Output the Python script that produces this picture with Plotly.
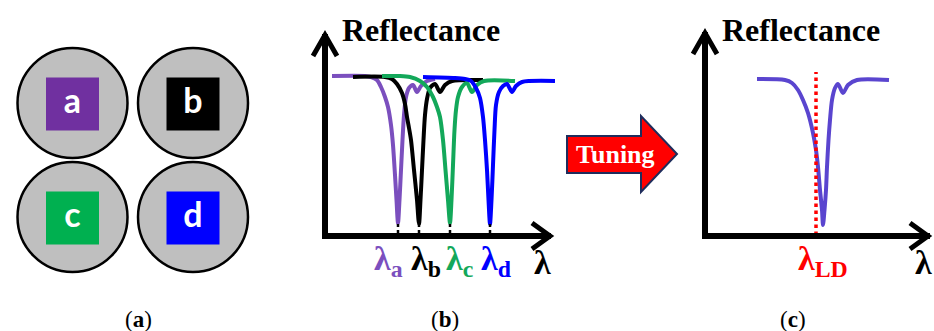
import plotly.graph_objects as go

W, H = 934, 331

# ---------------- data ----------------
# Panel (a): four samples
sample_labels = ["a", "b", "c", "d"]
square_colors = ["#7030A0", "#000000", "#00B050", "#0000FF"]

# Panel (b): reflectance spectra of the four samples (wavelength a.u., reflectance a.u.)
wl_a = [7, 40, 46, 52, 56, 60, 63, 66, 68, 70, 71.5, 73, 74.5, 76, 77.5, 79, 81, 84, 88, 92, 96, 102, 110]
R_a = [160, 160, 159, 156, 149, 139, 129, 111, 91, 61, 36, 13, 36, 66, 96, 121, 139, 148, 151, 144, 150, 155, 157]

wl_b = [28, 60, 67, 72, 77, 80, 82, 84, 86, 89, 92, 94, 95.5, 97, 98.5, 100, 102, 105, 110, 115, 120, 127, 158]
R_b = [159, 159, 157, 152, 143, 132, 119, 108, 96, 66, 36, 12, 36, 66, 96, 121, 137, 148, 152, 144, 151, 155, 156]

wl_c = [57, 75, 85, 95, 102, 108, 112, 115, 118, 120.5, 123, 125, 126.5, 128, 129.5, 131, 133, 137, 142, 147, 152, 159, 190]
R_c = [160, 160, 159, 155, 149, 139, 129, 119, 96, 66, 36, 13, 36, 71, 106, 126, 139, 149, 153, 144, 151, 155, 155]

wl_d = [98, 130, 140, 146, 151, 155, 158, 160, 162, 163.5, 165, 166.5, 168, 169.5, 171, 174, 178, 182, 187, 191, 197, 230]
R_d = [159, 158, 157, 155, 148, 138, 119, 96, 66, 36, 12, 36, 71, 106, 131, 144, 150, 152, 144, 150, 154, 155]

spectra_b = [(wl_a, R_a), (wl_b, R_b), (wl_c, R_c), (wl_d, R_d)]
line_colors = ["#7B4FBE", "#000000", "#13A85A", "#0000FF"]
dip_wl = [73, 94, 125, 165]
dip_R = [12, 12, 12, 12]
peak_names = ["a", "b", "c", "d"]

# Panel (c): tuned spectrum and laser wavelength
wl_t = [52, 80, 87, 93, 98, 103, 108, 111, 113, 115, 117, 118, 119.5, 121, 122, 123.5, 125, 127, 130, 133, 138, 143, 152, 184]
R_t = [157, 156, 153, 146, 136, 123, 103, 86, 69, 46, 26, 11, 26, 46, 69, 96, 116, 136, 148, 152, 143, 151, 156, 156]
lambda_LD = 111
lambda_LD_span = [1, 164]

panel_tags = ["a", "b", "c"]

# ---------------- layout constants (pixels) ----------------
SERIF = "Liberation Serif"
B_X0, B_X1, Y_BOT, Y_TOP = 325, 555, 236, 30
C_X0, C_X1 = 705, W

fig = go.Figure()

# Panel (a): circles with coloured squares
cols = [i % 2 for i in range(4)]
rows = [i // 2 for i in range(4)]
cx = [72.5 + c * 120.5 for c in cols]
cy = [103 + r * 114 for r in rows]
fig.add_trace(go.Scatter(
    x=cx, y=cy, mode="markers", xaxis="x", yaxis="y",
    marker=dict(symbol="circle", size=110, color="#BFBFBF",
                line=dict(color="#000000", width=2.5)),
    hoverinfo="skip", showlegend=False))
fig.add_trace(go.Scatter(
    x=cx, y=[v + 1 for v in cy], mode="markers+text", xaxis="x", yaxis="y",
    marker=dict(symbol="square", size=53, color=square_colors, line=dict(width=0)),
    text=sample_labels, textposition="middle center",
    textfont=dict(family="Lato", size=34, color="white", weight="bold"),
    hoverinfo="skip", showlegend=False))

# Panel (b): spectra
for (wl, R), col in zip(spectra_b, line_colors):
    fig.add_trace(go.Scatter(
        x=wl, y=R, mode="lines", xaxis="x2", yaxis="y2",
        line=dict(color=col, width=4, shape="spline", smoothing=0.8),
        hoverinfo="skip", showlegend=False))
for w, r in zip(dip_wl, dip_R):
    fig.add_trace(go.Scatter(
        x=[w, w], y=[r, 2], mode="lines", xaxis="x2", yaxis="y2",
        line=dict(color="#000000", width=2.5, dash="dot"),
        hoverinfo="skip", showlegend=False))

# Panel (c): tuned spectrum and laser line
fig.add_trace(go.Scatter(
    x=wl_t, y=R_t, mode="lines", xaxis="x3", yaxis="y3",
    line=dict(color="#5A45CF", width=4, shape="spline", smoothing=0.8),
    hoverinfo="skip", showlegend=False))
fig.add_trace(go.Scatter(
    x=[lambda_LD, lambda_LD], y=lambda_LD_span, mode="lines", xaxis="x3", yaxis="y3",
    line=dict(color="#FF0000", width=3.5, dash="dot"),
    hoverinfo="skip", showlegend=False))

shapes = []
def line(x0, y0, x1, y1, w=6):
    shapes.append(dict(type="line", xref="x", yref="y", x0=x0, y0=y0, x1=x1, y1=y1,
                       line=dict(color="black", width=w)))
def path(p, w=5, fill=None, lc="black"):
    d = dict(type="path", xref="x", yref="y", path=p, line=dict(color=lc, width=w))
    if fill:
        d["fillcolor"] = fill
    shapes.append(d)

# axes of (b)
line(B_X0, Y_BOT + 3, B_X0, Y_TOP + 4)
line(B_X0 - 3, Y_BOT, B_X1 - 4, Y_BOT)
path(f"M {B_X0-12},{Y_TOP+26} L {B_X0},{Y_TOP+5} L {B_X0+12},{Y_TOP+26}")
path(f"M {B_X1-23},{Y_BOT-13} L {B_X1-5},{Y_BOT} L {B_X1-23},{Y_BOT+13}")
# axes of (c)
line(C_X0, Y_BOT + 3, C_X0, Y_TOP + 2)
line(C_X0 - 3, Y_BOT, C_X1 - 4, Y_BOT)
path(f"M {C_X0-12},{Y_TOP+24} L {C_X0},{Y_TOP+3} L {C_X0+12},{Y_TOP+24}")
path(f"M {C_X1-24},{Y_BOT-13} L {C_X1-6},{Y_BOT} L {C_X1-24},{Y_BOT+13}")
# Tuning arrow
path("M 567,136 L 641,136 L 641,116 L 677,154 L 641,192 L 641,173 L 567,173 Z",
     w=2, fill="#FF0000", lc="#1F2D5C")

ann = []
def text(x, y, s, size, color="black", xanchor="center", family=SERIF):
    ann.append(dict(x=x, y=y, xref="x", yref="y", text=s, showarrow=False,
                    xanchor=xanchor, yanchor="middle",
                    font=dict(family=family, size=size, color=color, weight="bold")))

text(421, 30, "Reflectance", 32)
text(801, 30, "Reflectance", 32)
text(615, 154, "Tuning", 26, color="white")
label_x = [372, 409, 444, 479]
for lx, nm, col in zip(label_x, peak_names, line_colors):
    text(lx, 261, f"λ<sub>{nm}</sub>", 34, color=col, xanchor="left")
text(532, 262, "λ", 34, xanchor="left")
text(796, 261, "λ<sub>LD</sub>", 34, color="#FF0000", xanchor="left")
text(913, 262, "λ", 34, xanchor="left")
for tx, tag in zip([138, 445, 793], panel_tags):
    ann.append(dict(x=tx, y=319, xref="x", yref="y", text=f"(<b>{tag}</b>)", showarrow=False,
                    xanchor="center", yanchor="middle",
                    font=dict(family=SERIF, size=23, color="black")))

hid = dict(visible=False, fixedrange=True)
fig.update_layout(
    width=W, height=H, autosize=False,
    margin=dict(l=0, r=0, t=0, b=0, pad=0),
    paper_bgcolor="white", plot_bgcolor="rgba(0,0,0,0)",
    showlegend=False,
    xaxis=dict(domain=[0, 1], range=[0, W], **hid),
    yaxis=dict(domain=[0, 1], range=[H, 0], **hid),
    xaxis2=dict(domain=[B_X0 / W, B_X1 / W], range=[0, B_X1 - B_X0], anchor="y2", **hid),
    yaxis2=dict(domain=[1 - Y_BOT / H, 1 - Y_TOP / H], range=[0, Y_BOT - Y_TOP], anchor="x2", **hid),
    xaxis3=dict(domain=[C_X0 / W, 1], range=[0, C_X1 - C_X0], anchor="y3", **hid),
    yaxis3=dict(domain=[1 - Y_BOT / H, 1 - Y_TOP / H], range=[0, Y_BOT - Y_TOP], anchor="x3", **hid),
    shapes=shapes, annotations=ann,
)

fig.write_html("out.html", config={"displayModeBar": False})
